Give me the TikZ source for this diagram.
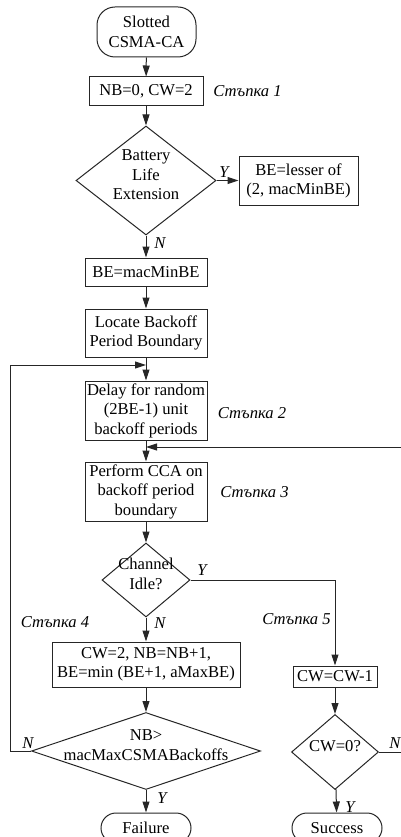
\documentclass[tikz,border=0pt]{standalone}
\usepackage{fontspec}
\setmainfont{Liberation Serif}
\usetikzlibrary{shapes.geometric,arrows.meta}
\newcommand{\flowfont}{\fontsize{16.6}{19.5}\selectfont}
\newcommand{\dstack}[1]{\smash{\makebox[0pt]{\begin{tabular}{@{}c@{}}#1\end{tabular}}}}

\begin{document}
\begin{tikzpicture}[x=1pt,y=-1pt,font=\flowfont,>={Triangle[length=11pt,width=7pt]},
	flow/.style={->,black!85,line width=1pt},
	box/.style={draw=black!85,line width=1pt,rectangle,inner sep=0pt,align=center},
	decision/.style={draw=black!85,line width=1pt,diamond,inner sep=0pt},
	term/.style={draw=black!85,line width=1pt,rectangle,rounded corners=#1,inner sep=0pt,align=center},
	note/.style={font=\flowfont\itshape,inner sep=0pt}]
	\useasboundingbox (0,0) rectangle (401,837);
	\node[term=18pt,minimum width=99,minimum height=50] (start) at (146.5,32) {Slotted\\CSMA-CA};
	\node[box,minimum width=114,minimum height=29] (init) at (146,91.5) {NB=0, CW=2};
	\node[decision,minimum width=140,minimum height=109] (battery) at (146,180.5) {\dstack{Battery\\Life\\Extension}};
	\node[box,minimum width=119,minimum height=49] (lesser) at (298.5,181) {BE=lesser of\\(2, macMinBE)};
	\node[box,minimum width=122,minimum height=28] (minbe) at (146,272) {BE=macMinBE};
	\node[box,minimum width=122,minimum height=48] (locate) at (146,333) {Locate Backoff\\Period Boundary};
	\node[box,minimum width=122,minimum height=59] (delay) at (146,410.5) {Delay for random\\(2BE-1) unit\\backoff periods};
	\node[box,minimum width=122,minimum height=59] (cca) at (146,491.5) {Perform CCA on\\backoff period\\boundary};
	\node[decision,minimum width=88,minimum height=74] (idle) at (146,580) {\dstack{Channel\\Idle?}};
	\node[box,minimum width=188,minimum height=45] (backoff) at (146,664.5) {CW=2, NB=NB+1,\\BE=min (BE+1, aMaxBE)};
	\node[decision,minimum width=229,minimum height=77] (nbmax) at (146,751) {\dstack{NB>\\macMaxCSMABackoffs}};
	\node[term=15pt,minimum width=90,minimum height=30] (failure) at (146,828) {Failure};
	\node[box,minimum width=84,minimum height=21] (cwdec) at (335,676.5) {CW=CW-1};
	\node[decision,minimum width=87,minimum height=75] (cw0) at (335,752) {\dstack{CW=0?}};
	\node[term=15pt,minimum width=90,minimum height=30] (success) at (337,828) {Success};
	\foreach \i/\x/\y in {1/247.5/91,2/252/413,3/254.5/492,4/55/622,5/296.5/619} \node[note] (step\i) at (\x,\y) {Стъпка \i};
	\node[note] (y1) at (224,172) {Y};
	\node[note] (n1) at (160,243) {N};
	\node[note] (y2) at (202,570) {Y};
	\node[note] (n2) at (160,623) {N};
	\node[note] (n3) at (28,743) {N};
	\node[note] (y3) at (162,798) {Y};
	\node[note] (n4) at (395,743) {N};
	\node[note] (y4) at (350,807) {Y};
	\coordinate (join1) at (146,365);
	\coordinate (retl) at (10,365);
	\coordinate (join2) at (146,447);
	\coordinate (retr) at (402,447);
	\draw[flow] (start) -- (init);
	\draw[flow] (init) -- (battery);
	\draw[flow] (battery.east) -- (battery.east -| lesser.west);
	\draw[flow] (battery) -- (minbe);
	\draw[flow] (minbe) -- (locate);
	\draw[flow] (locate) -- (delay);
	\draw[flow] (delay) -- (cca);
	\draw[flow] (cca) -- (idle);
	\draw[flow] (idle) -- (backoff);
	\draw[flow] (backoff) -- (nbmax);
	\draw[flow] (nbmax) -- (failure);
	\draw[flow] (idle.east) -| (cwdec);
	\draw[flow] (cwdec) -- (cw0);
	\draw[flow] (cw0) -- (success);
	\draw[flow] (nbmax.west) -| (retl) -- (join1);
	\draw[flow] (cw0.east) -| (retr) -- (join2);
\end{tikzpicture}
\end{document}
